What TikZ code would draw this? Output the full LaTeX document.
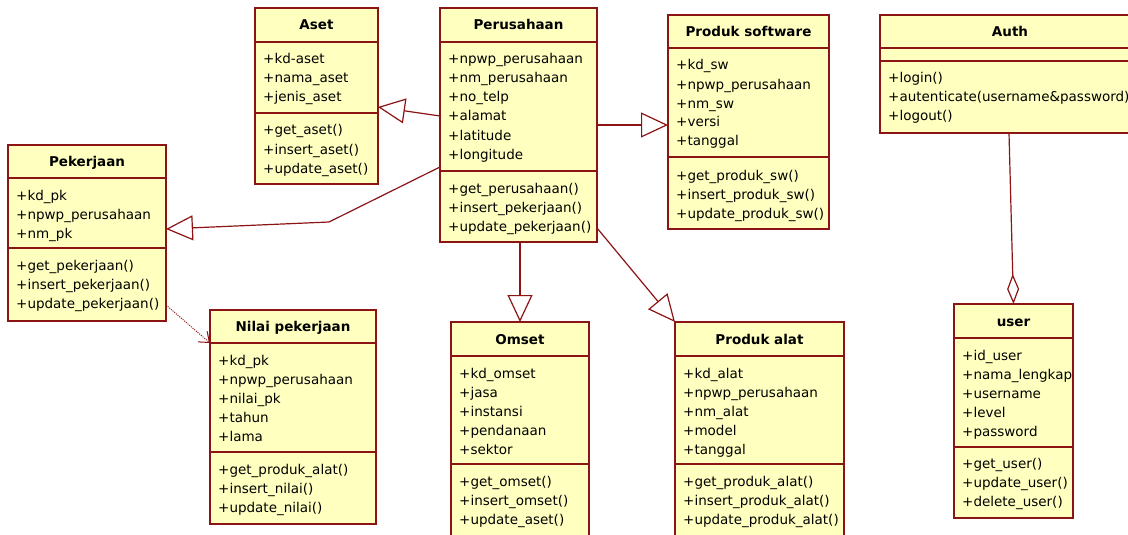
\documentclass[tikz,border=0pt]{standalone}
\usepackage{fontspec}
\setmainfont{DejaVu Sans}
\usetikzlibrary{arrows.meta}

\definecolor{umlfill}{RGB}{255,255,192}
\definecolor{umlline}{RGB}{140,20,20}

\tikzset{
  x=1pt, y=-1pt,
  classbody/.style={draw=umlline, fill=umlfill, line width=1.6pt, rectangle,
                    inner sep=0pt, outer sep=0pt},
  border/.style={draw=umlline, line width=1.6pt},
  classname/.style={font=\fontsize{13.5}{16}\selectfont\bfseries, anchor=base, inner sep=0pt},
  member/.style={font=\fontsize{13.5}{16}\selectfont, anchor=base west, inner sep=0pt},
  link/.style={draw=umlline, line width=1.2pt},
  generalize/.style={link, -{Triangle[open, length=27pt, width=25pt, line width=1.2pt]}},
  depend/.style={draw=umlline, line width=1pt, dash pattern=on 1pt off 1.2pt,
                 -{Straight Barb[length=9pt, width=14pt, line width=1pt]}},
  aggregate/.style={link, -{Diamond[open, length=30pt, width=12pt, line width=1.2pt]}},
}

% class box: name, x, y, width, height, title divider, member divider, title
\newcommand\umlbox[8]{%
  \node[classbody, minimum width=#4pt, minimum height=#5pt, anchor=north west] (#1) at (#2,#3) {};
  \draw[border] ([yshift=-#6pt]#1.north west) -- ([yshift=-#6pt]#1.north east);
  \draw[border] ([yshift=-#7pt]#1.north west) -- ([yshift=-#7pt]#1.north east);
  \node[classname] (#1-name) at (#2+#4/2, #3+#6/2+5) {#8};
}
% member lines: box name, key, x, first baseline, list
\newcommand\umllines[5]{%
  \foreach \txt [count=\i] in {#5} {
    \node[member] (#1-#2\i) at (#3+8, #4+\i*19-19) {\txt};
  }
}

\begin{document}
\begin{tikzpicture}
\clip (0,0) rectangle (1128,535);
\fill[white] (0,0) rectangle (1128,535);

% Aset
\umlbox{aset}{255}{8}{123}{176}{34}{105}{Aset}
\umllines{aset}{a}{255}{64}{+kd-aset,+nama\_aset,+jenis\_aset}
\umllines{aset}{m}{255}{135}{+get\_aset(),+insert\_aset(),+update\_aset()}

% Perusahaan
\umlbox{peru}{440}{8}{157}{234}{34}{163}{Perusahaan}
\umllines{peru}{a}{440}{64}{+npwp\_perusahaan,+nm\_perusahaan,+no\_telp,+alamat,+latitude,+longitude}
\umllines{peru}{m}{440}{193}{+get\_perusahaan(),+insert\_pekerjaan(),+update\_pekerjaan()}

% Produk software
\umlbox{sw}{668}{15}{161}{214}{33}{142}{Produk software}
\umllines{sw}{a}{668}{70}{+kd\_sw,+npwp\_perusahaan,+nm\_sw,+versi,+tanggal}
\umllines{sw}{m}{668}{180}{+get\_produk\_sw(),+insert\_produk\_sw(),+update\_produk\_sw()}

% Auth
\umlbox{auth}{880}{15}{260}{118}{33}{46}{Auth}
\umllines{auth}{m}{880}{83}{+login(),+autenticate(username\&password),+logout()}

% Pekerjaan
\umlbox{pek}{8}{145}{158}{176}{33}{103}{Pekerjaan}
\umllines{pek}{a}{8}{200}{+kd\_pk,+npwp\_perusahaan,+nm\_pk}
\umllines{pek}{m}{8}{270}{+get\_pekerjaan(),+insert\_pekerjaan(),+update\_pekerjaan()}

% Nilai pekerjaan
\umlbox{nilai}{210}{310}{166}{214}{33}{142}{Nilai pekerjaan}
\umllines{nilai}{a}{210}{365}{+kd\_pk,+npwp\_perusahaan,+nilai\_pk,+tahun,+lama}
\umllines{nilai}{m}{210}{474}{+get\_produk\_alat(),+insert\_nilai(),+update\_nilai()}

% Omset
\umlbox{omset}{451}{322}{138}{222}{34}{142}{Omset}
\umllines{omset}{a}{451}{378}{+kd\_omset,+jasa,+instansi,+pendanaan,+sektor}
\umllines{omset}{m}{451}{486}{+get\_omset(),+insert\_omset(),+update\_aset()}

% Produk alat
\umlbox{alat}{675}{322}{169}{222}{34}{142}{Produk alat}
\umllines{alat}{a}{675}{378}{+kd\_alat,+npwp\_perusahaan,+nm\_alat,+model,+tanggal}
\umllines{alat}{m}{675}{486}{+get\_produk\_alat(),+insert\_produk\_alat(),+update\_produk\_alat()}

% user
\umlbox{user}{954}{304}{119}{214}{34}{143}{user}
\umllines{user}{a}{954}{360}{+id\_user,+nama\_lengkap,+username,+level,+password}
\umllines{user}{m}{954}{468}{+get\_user(),+update\_user(),+delete\_user()}

% generalisations from Perusahaan
\draw[generalize] ([yshift=-108pt]peru.north west) -- ([yshift=-99pt]aset.north east);
\draw[generalize] ([yshift=-117pt]peru.north east) -- ([yshift=-110pt]sw.north west);
\coordinate (bend) at (329,222);
\draw[generalize] ([yshift=-159pt]peru.north west) -- (bend) -- ([yshift=-84pt]pek.north east);
\draw[generalize] (omset.north |- peru.south) -- (omset.north);
\draw[generalize] ([yshift=14pt]peru.south east) -- (alat.north west);

% dependency Pekerjaan -> Nilai pekerjaan
\draw[depend] ([yshift=16pt]pek.south east) -- ([yshift=-33pt]nilai.north west);

% aggregation Auth -- user
\draw[aggregate] ([xshift=129pt]auth.south west) -- (user.north);
\end{tikzpicture}
\end{document}
